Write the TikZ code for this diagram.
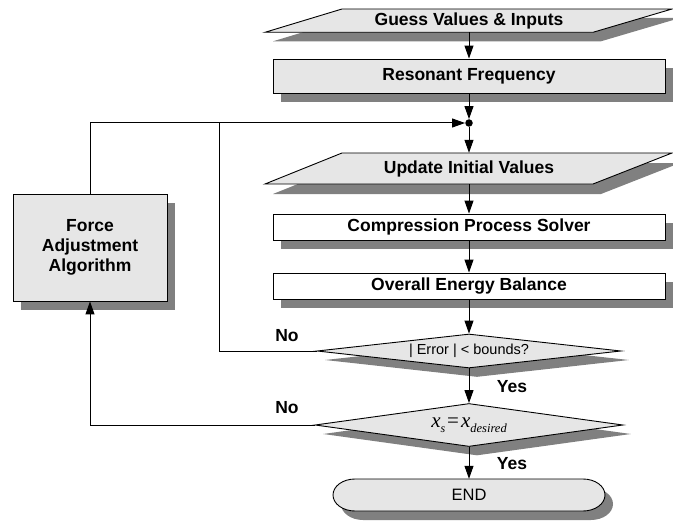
\documentclass[tikz,border=0pt]{standalone}
\usepackage{fontspec}
\setmainfont{Liberation Sans}
\newfontfamily\tnr{Liberation Serif}
\usetikzlibrary{arrows.meta,shapes.geometric,shadows}
\definecolor{boxfill}{HTML}{E6E6E6}
\definecolor{shadowgray}{HTML}{808080}
\begin{document}
\begin{tikzpicture}[x=1pt,y=-1pt,
  bigbold/.style={font=\fontsize{17.5}{20}\selectfont\bfseries},
  shad/.style={drop shadow={shadow xshift=#1, shadow yshift=-9pt, fill=shadowgray, opacity=1}},
  shad/.default=8pt,
  flowbox/.style={draw=black, line width=0.9pt, fill=boxfill, inner sep=0pt, bigbold, shad},
  whitebox/.style={flowbox, fill=white, shad=9pt},
  dia/.style={diamond, draw=black, line width=0.9pt, fill=boxfill, shape aspect=9, inner sep=0pt, shad},
  txt/.style={inner sep=0pt, bigbold},
  lbl/.style={inner sep=0pt, bigbold},
  arr/.style={line width=1pt, -{Triangle[length=13pt,width=9pt]}},
  ln/.style={line width=1pt}
]
\useasboundingbox (0,0) rectangle (673,527);

% parallelogram: Guess Values & Inputs
\fill[shadowgray] (273,41.3) -- (350,18) -- (680,18) -- (601,41.3) -- cycle;
\draw[line width=0.9pt, fill=boxfill] (265,32.3) -- (342,9) -- (672,9) -- (593,32.3) -- cycle;
\node[txt, minimum width=407pt, minimum height=23.3pt] (guess) at (469,20.65) {Guess Values \& Inputs};

\node[flowbox, minimum width=392pt, minimum height=34pt] (res) at (469,76) {Resonant Frequency};

\node[circle, fill=black, inner sep=0pt, minimum size=7.5pt] (dot) at (469,123) {};

% parallelogram: Update Initial Values
\fill[shadowgray] (273,194) -- (350,163) -- (680,163) -- (601,194) -- cycle;
\draw[line width=0.9pt, fill=boxfill] (265,184) -- (342,153) -- (672,153) -- (593,184) -- cycle;
\node[txt, minimum width=407pt, minimum height=31pt] (upd) at (469,168.5) {Update Initial Values};

\node[whitebox, minimum width=392pt, minimum height=26pt] (comp) at (469,227) {Compression Process Solver};
\node[whitebox, minimum width=392pt, minimum height=26pt] (bal) at (469,286) {Overall Energy Balance};

\node[dia, minimum width=304pt, minimum height=34pt, font=\fontsize{14.5}{16}\selectfont] (err) at (469,351) {| Error | < bounds?};

\node[dia, minimum width=308pt, minimum height=43pt] (xs) at (469,425)
  {\tnr\itshape\fontsize{21}{22}\selectfont x\raisebox{-5pt}{\fontsize{12}{12}\selectfont s}\kern2pt{\upshape=}\kern2pt x\raisebox{-5pt}{\fontsize{12.5}{12}\selectfont desired}};

% END terminal
\fill[shadowgray] (363,488) -- (591,488) arc[start angle=90, end angle=-90, x radius=22pt, y radius=16pt]
  -- (363,520) arc[start angle=270, end angle=90, x radius=22pt, y radius=16pt] -- cycle;
\draw[line width=0.9pt, fill=boxfill] (355,479) -- (583,479) arc[start angle=90, end angle=-90, x radius=22pt, y radius=16pt]
  -- (355,511) arc[start angle=270, end angle=90, x radius=22pt, y radius=16pt] -- cycle;
\node[inner sep=0pt, minimum width=272pt, minimum height=32pt, font=\fontsize{16.5}{18}\selectfont] (endn) at (469,495) {END};

% Force adjustment
\node[flowbox, minimum width=154pt, minimum height=107pt, align=center,
  font=\fontsize{17.5}{20}\selectfont\bfseries] (force) at (90,247.5) {Force\\Adjustment\\Algorithm};

% connectors
\coordinate (c1) at (219,123);
\draw[arr] (guess.south) -- (res.north);
\draw[arr] (res.south) -- (dot);
\draw[arr] (dot) -- (upd.north);
\draw[arr] (upd.south) -- (comp.north);
\draw[arr] (comp.south) -- (bal.north);
\draw[arr] (bal.south) -- (err.north);
\draw[arr] (err.south) -- (xs.north);
\draw[arr] (xs.south) -- (endn.north);
\draw[arr] (err.west) -| (c1) -- (dot);
\draw[ln] (force.north) |- (c1);
\draw[arr] (xs.west) -| (force.south);

% labels
\node[lbl] (no1) at (287,336) {No};
\node[lbl] (no2) at (287,408) {No};
\node[lbl] (yes1) at (512,387) {Yes};
\node[lbl] (yes2) at (512,464) {Yes};
\end{tikzpicture}
\end{document}
